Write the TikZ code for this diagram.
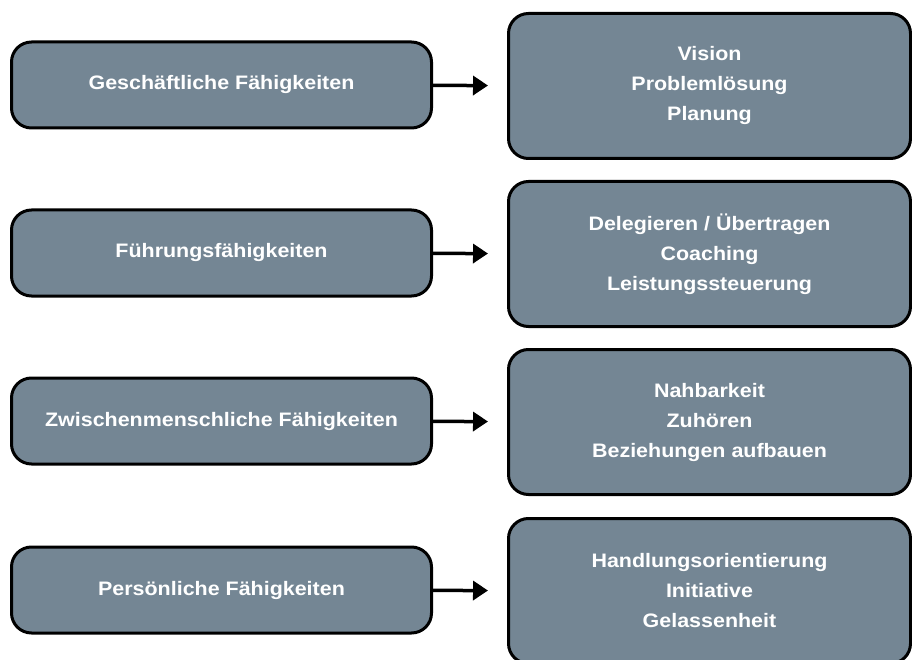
\documentclass[tikz,border=0pt]{standalone}
\usepackage{fontspec}
\setmainfont[FakeStretch=1.1]{Liberation Sans}
\usetikzlibrary{arrows.meta}
\definecolor{slate}{HTML}{748694}
\tikzset{
  skill/.style={draw=black, line width=3pt, fill=slate, rounded corners=20pt,
    minimum width=420pt, minimum height=86pt, inner sep=0pt, text=white,
    font=\bfseries\fontsize{19.5}{30}\selectfont, align=center},
  detail/.style={skill, minimum width=402pt, minimum height=145pt},
  link/.style={line width=3.5pt, -{Triangle[length=15pt,width=19pt]}, shorten >=19pt}
}
\begin{document}
\begin{tikzpicture}[x=1pt, y=-1pt]
  \useasboundingbox (0,0) rectangle (912,660);
  % left column
  \node [skill] (business) at (221.5,85) {Geschäftliche Fähigkeiten};
  \node [skill] (lead) at (221.5,253) {Führungsfähigkeiten};
  \node [skill] (social) at (221.5,421) {Zwischenmenschliche Fähigkeiten};
  \node [skill] (personal) at (221.5,590) {Persönliche Fähigkeiten};
  % right column
  \node [detail] (businessd) at (709.5,86) {Vision\\Problemlösung\\Planung};
  \node [detail] (leadd) at (709.5,254) {Delegieren / Übertragen\\Coaching\\Leistungssteuerung};
  \node [detail] (sociald) at (709.5,422) {Nahbarkeit\\Zuhören\\Beziehungen aufbauen};
  \node [detail] (personald) at (709.5,591) {Handlungsorientierung\\Initiative\\Gelassenheit};
  % arrows
  \draw [link] (business) -- (businessd);
  \draw [link] (lead) -- (leadd);
  \draw [link] (social) -- (sociald);
  \draw [link] (personal) -- (personald);
\end{tikzpicture}
\end{document}
